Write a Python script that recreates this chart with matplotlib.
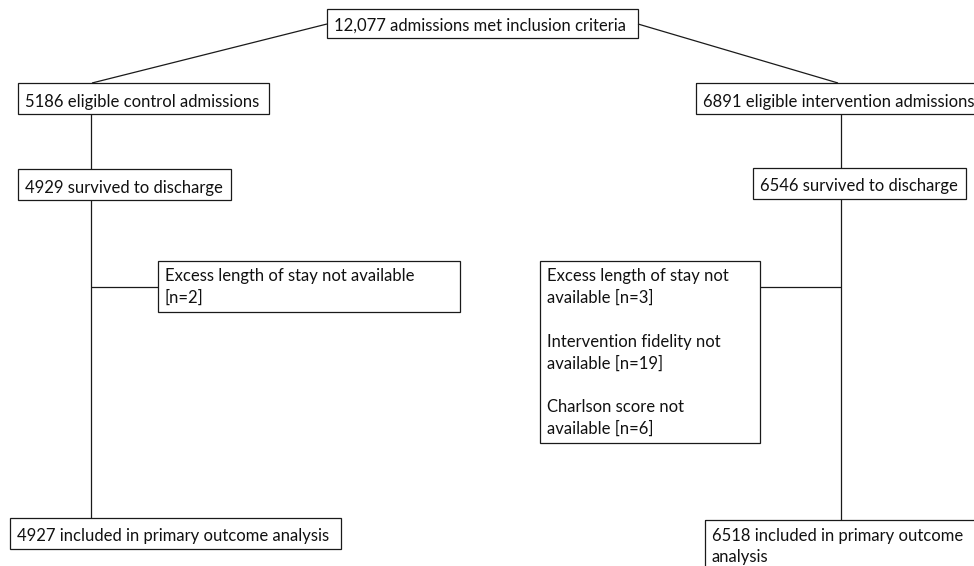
import matplotlib.pyplot as plt
from matplotlib.patches import Rectangle

plt.rcParams['font.family'] = ['Lato', 'DejaVu Sans']

# box texts
top_label = '12,077 admissions met inclusion criteria'
control_labels = ['5186 eligible control admissions',
                  '4929 survived to discharge',
                  '4927 included in primary outcome analysis']
control_excl = ['Excess length of stay not available', '[n=2]']
interv_labels = ['6891 eligible intervention admissions',
                 '6546 survived to discharge',
                 ['6518 included in primary outcome', 'analysis']]
interv_excl = ['Excess length of stay not', 'available [n=3]', '',
               'Intervention fidelity not', 'available [n=19]', '',
               'Charlson score not', 'available [n=6]']

# box geometry in pixels: x0, y0, x1, y1 (y down)
boxes = {
    'top': (327, 9, 638, 38),
    'c1': (18, 83, 269, 114),
    'c2': (18, 169, 231, 200),
    'c3': (10, 518, 341, 549),
    'ce': (158, 261, 460, 312),
    'i1': (696, 83, 990, 114),
    'i2': (753, 168, 966, 199),
    'i3': (705, 520, 990, 600),
    'ie': (540, 261, 760, 443),
}

fig = plt.figure(figsize=(9.74, 5.66), dpi=100)
ax = fig.add_axes([0, 0, 1, 1])
ax.set_xlim(0, 974)
ax.set_ylim(566, 0)
ax.axis('off')

lc = '#1a1a1a'
lw = 0.9
fs = 12
step = 21.7


def box(key, label):
    x0, y0, x1, y1 = boxes[key]
    ax.add_patch(Rectangle((x0, y0), x1 - x0, y1 - y0, fill=False,
                           ec=lc, lw=lw))
    if isinstance(label, str):
        ax.text(x0 + 7, y1 - 7.5, label, ha='left', va='baseline',
                fontsize=fs, color='#111111')
    else:
        for i, t in enumerate(label):
            ax.text(x0 + 7, y0 + 20.5 + i * step, t, ha='left',
                    va='baseline', fontsize=fs, color='#111111')


def line(xs, ys):
    ax.plot(xs, ys, color=lc, lw=lw, solid_capstyle='butt')


box('top', top_label)
box('c1', control_labels[0])
box('c2', control_labels[1])
box('c3', control_labels[2])
box('ce', control_excl)
box('i1', interv_labels[0])
box('i2', interv_labels[1])
box('i3', interv_labels[2])
box('ie', interv_excl)

# connectors
line([327, 92], [24, 83])
line([638, 838], [24, 83])
line([91, 91], [114, 169])
line([91, 91], [200, 518])
line([91, 158], [287, 287])
line([841, 841], [114, 168])
line([841, 841], [199, 520])
line([760, 841], [287, 287])

fig.savefig('out.png', dpi=100)
